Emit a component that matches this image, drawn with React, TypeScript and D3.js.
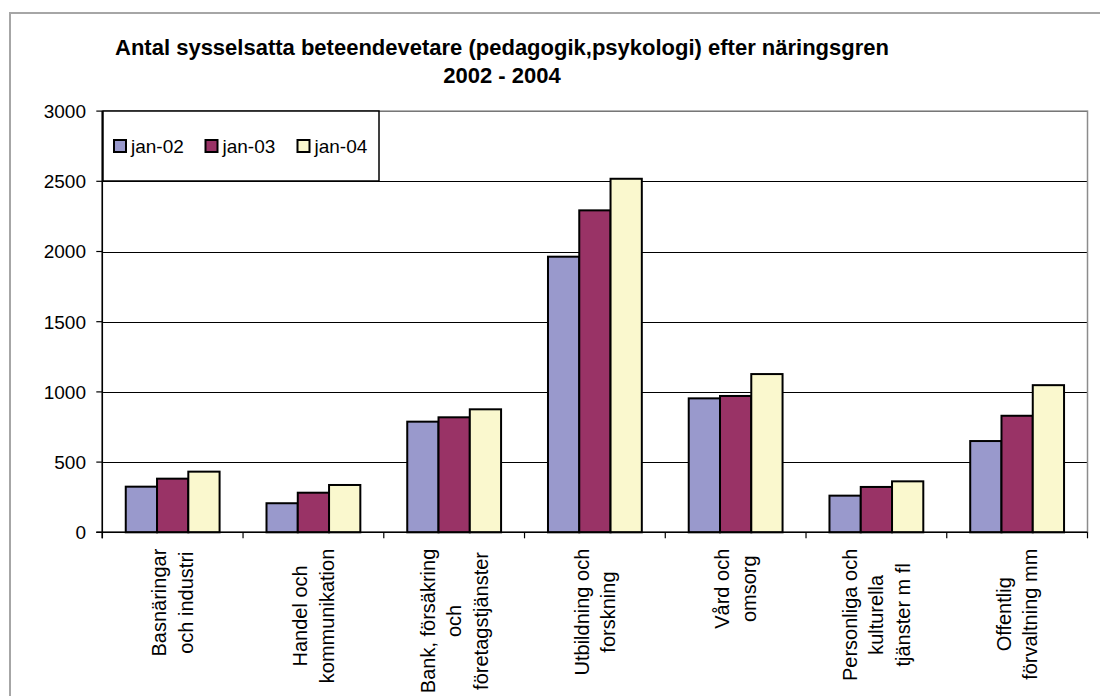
import React, { useEffect, useRef } from 'react';
import * as d3 from 'd3';

const TITLE_LINES = ['Antal sysselsatta beteendevetare (pedagogik,psykologi) efter näringsgren', '2002 - 2004'];
const categories = [
  ['Basnäringar', 'och industri'],
  ['Handel och', 'kommunikation'],
  ['Bank, försäkring', 'och', 'företagstjänster'],
  ['Utbildning och', 'forskning'],
  ['Vård och', 'omsorg'],
  ['Personliga och', 'kulturella', 'tjänster m fl'],
  ['Offentlig', 'förvaltning mm'],
];
const seriesNames = ['jan-02', 'jan-03', 'jan-04'];
const jan02 = [325, 207, 788, 1963, 954, 261, 650];
const jan03 = [382, 282, 819, 2293, 971, 323, 830];
const jan04 = [432, 337, 876, 2518, 1127, 363, 1048];
const seriesValues = [jan02, jan03, jan04];
const seriesColors = ['#9999CC', '#993366', '#FAF8CE'];
const yTicks = [0, 500, 1000, 1500, 2000, 2500, 3000];

const W = 1100;
const H = 696;
const FONT = "'Liberation Sans', Arial, sans-serif";

export default function App() {
  const ref = useRef<SVGSVGElement>(null);

  useEffect(() => {
    const svg = d3.select(ref.current);
    svg.selectAll('*').remove();

    const left = 102.3, right = 1087.5, top = 111.1, bottom = 532.3;

    // outer frame
    svg.append('rect').attr('x', 10).attr('y', 13).attr('width', 1100).attr('height', 700)
      .attr('fill', '#fff').attr('stroke', '#a6a6a6').attr('stroke-width', 2);

    // title
    TITLE_LINES.forEach((t, i) => {
      svg.append('text').attr('x', 502).attr('y', 55 + i * 28).attr('text-anchor', 'middle')
        .attr('font-family', FONT).attr('font-size', 22).attr('font-weight', 'bold').attr('fill', '#000').text(t);
    });

    const y = d3.scaleLinear().domain([0, 3000]).range([bottom, top]);
    const x0 = d3.scaleBand<number>().domain(categories.map((_, i) => i)).range([left, right]).paddingInner(0).paddingOuter(0);
    const x1 = d3.scaleBand<number>().domain(seriesNames.map((_, i) => i)).range([0, x0.bandwidth()]).paddingInner(0).paddingOuter(0.75);

    // plot area
    svg.append('rect').attr('x', left).attr('y', top).attr('width', right - left).attr('height', bottom - top).attr('fill', '#fff');

    // gridlines
    yTicks.filter(v => v > 0).forEach(v => {
      const yy = Math.round(y(v)) + 0.5;
      svg.append('line').attr('x1', left).attr('x2', right).attr('y1', yy).attr('y2', yy)
        .attr('stroke', '#000').attr('stroke-width', 1);
    });

    // plot border
    svg.append('rect').attr('x', left).attr('y', top).attr('width', right - left).attr('height', bottom - top)
      .attr('fill', 'none').attr('stroke', '#8c8c8c').attr('stroke-width', 1.5);

    // bars
    categories.forEach((_, ci) => {
      seriesValues.forEach((vals, si) => {
        const v = vals[ci];
        svg.append('rect')
          .attr('x', (x0(ci) as number) + (x1(si) as number))
          .attr('y', y(v))
          .attr('width', x1.bandwidth())
          .attr('height', bottom - y(v))
          .attr('fill', seriesColors[si])
          .attr('stroke', '#000').attr('stroke-width', 2);
      });
    });

    // axes
    svg.append('line').attr('x1', left).attr('x2', left).attr('y1', top).attr('y2', bottom + 6)
      .attr('stroke', '#000').attr('stroke-width', 1.5);
    svg.append('line').attr('x1', left - 6).attr('x2', right).attr('y1', bottom).attr('y2', bottom)
      .attr('stroke', '#000').attr('stroke-width', 1.5);
    yTicks.forEach(v => {
      const yy = y(v);
      svg.append('line').attr('x1', left - 6).attr('x2', left).attr('y1', yy).attr('y2', yy)
        .attr('stroke', '#000').attr('stroke-width', 1.2);
      svg.append('text').attr('x', 86).attr('y', yy).attr('dy', '0.36em').attr('text-anchor', 'end')
        .attr('font-family', FONT).attr('font-size', 19).attr('fill', '#000').text(String(v));
    });
    for (let i = 0; i <= categories.length; i++) {
      const xx = i < categories.length ? (x0(i) as number) : right;
      svg.append('line').attr('x1', xx).attr('x2', xx).attr('y1', bottom).attr('y2', bottom + 6)
        .attr('stroke', '#000').attr('stroke-width', 1.2);
    }

    // x labels
    const lineGap = 26.5;
    const labelTop = 548.7;
    categories.forEach((lines, ci) => {
      const cx = (x0(ci) as number) + x0.bandwidth() / 2;
      const g = svg.append('g');
      const texts = lines.map(l => g.append('text').attr('font-family', FONT).attr('font-size', 20)
        .attr('fill', '#000').attr('text-anchor', 'middle').attr('dy', '0.35em').text(l));
      const maxW = d3.max(texts.map(t => (t.node() as SVGTextElement).getComputedTextLength())) || 0;
      const n = lines.length;
      texts.forEach((t, k) => {
        const px = cx + (k - (n - 1) / 2) * lineGap;
        t.attr('transform', `translate(${px},${labelTop + maxW / 2}) rotate(-90)`);
      });
    });

    // legend
    svg.append('rect').attr('x', 103).attr('y', 111).attr('width', 276).attr('height', 70)
      .attr('fill', '#fff').attr('stroke', '#000').attr('stroke-width', 1.5);
    const legX = [114, 205.5, 297.5];
    seriesNames.forEach((name, i) => {
      svg.append('rect').attr('x', legX[i]).attr('y', 140).attr('width', 12).attr('height', 12)
        .attr('fill', seriesColors[i]).attr('stroke', '#000').attr('stroke-width', 2);
      svg.append('text').attr('x', legX[i] + 17).attr('y', 146).attr('dy', '0.36em')
        .attr('font-family', FONT).attr('font-size', 19).attr('fill', '#000').text(name);
    });
  }, []);

  return (
    <svg ref={ref} width={W} height={H} style={{ position: 'absolute', left: 0, top: 0, background: '#fff' }} />
  );
}
